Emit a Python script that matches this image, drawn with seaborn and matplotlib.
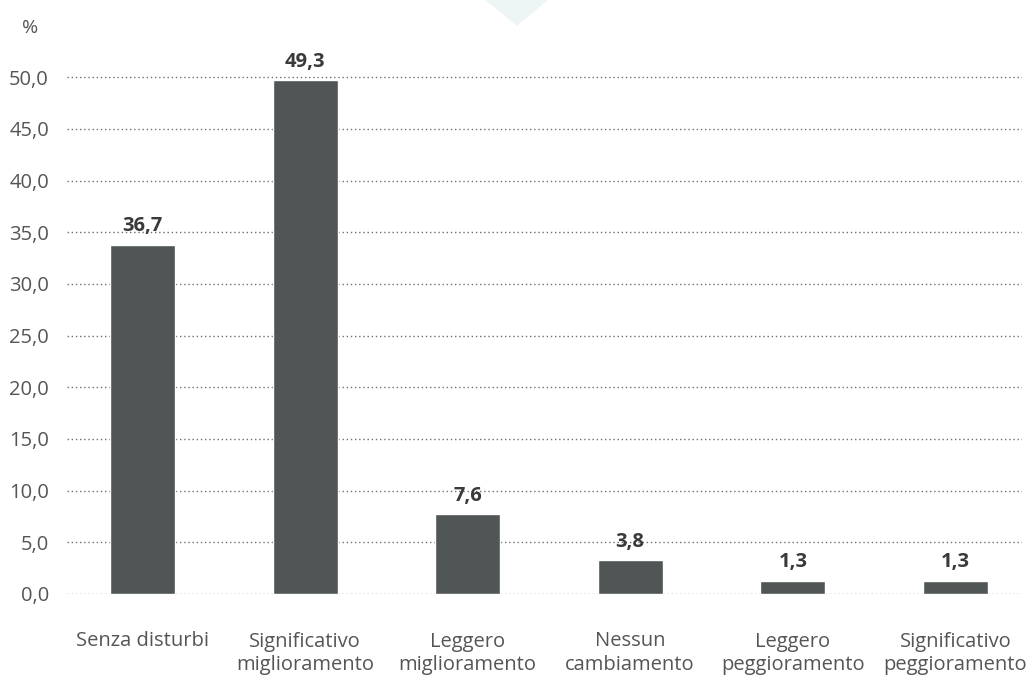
import matplotlib
matplotlib.use("Agg")
import matplotlib.pyplot as plt
import seaborn as sns
import pandas as pd
from matplotlib.patches import Polygon

# ---- data ----
categories = ["Senza disturbi", "Significativo\nmiglioramento", "Leggero\nmiglioramento",
              "Nessun\ncambiamento", "Leggero\npeggioramento", "Significativo\npeggioramento"]
bar_heights = [33.8, 49.7, 7.7, 3.3, 1.3, 1.3]
value_labels = ["36,7", "49,3", "7,6", "3,8", "1,3", "1,3"]
y_ticks = [0, 5, 10, 15, 20, 25, 30, 35, 40, 45, 50]
y_tick_labels = ["0,0", "5,0", "10,0", "15,0", "20,0", "25,0", "30,0", "35,0", "40,0", "45,0", "50,0"]

df = pd.DataFrame({"cat": categories, "val": bar_heights})

sns.set_theme(style="white")
plt.rcParams["font.family"] = ["Open Sans", "DejaVu Sans"]

W, H = 1032, 675
fig = plt.figure(figsize=(W / 100, H / 100), dpi=100)
ax = fig.add_axes([67 / W, 1 - 594 / H, (1022 - 67) / W, (594 - 40) / H])

sns.barplot(data=df, x="cat", y="val", order=categories, color="#505555",
            width=0.4, saturation=1, ax=ax, zorder=3)

ax.set_xlim(-0.464, 5.41)
ax.set_ylim(0, 53.6)
ax.set_yticks(y_ticks)
ax.set_yticklabels(y_tick_labels)
ax.set_xlabel("")
ax.set_ylabel("")
for s in ax.spines.values():
    s.set_visible(False)
ax.grid(axis="y", linestyle=(0, (1, 2)), color="#6f6f6f", linewidth=1, zorder=0)
ax.grid(axis="x", visible=False)
ax.tick_params(axis="y", length=0, pad=13, labelsize=14.5, labelcolor="#555555")
ax.tick_params(axis="x", length=0, pad=27, labelsize=14.5, labelcolor="#555555")
for t in ax.get_xticklabels():
    t.set_linespacing(1.25)

ax.bar_label(ax.containers[0], labels=value_labels, padding=6, fontsize=14.5,
             fontweight="bold", color="#3a3a3a", zorder=4)

fig.text(30 / W, 1 - 28 / H, "%", fontsize=14, color="#555555", ha="center", va="center")

tri = Polygon([[485 / W, 1.0], [548 / W, 1.0], [517 / W, 1 - 26 / H]], closed=True,
              transform=fig.transFigure, facecolor="#eef5f5", edgecolor="none")
fig.patches.append(tri)

fig.savefig("out.png", dpi=100)
